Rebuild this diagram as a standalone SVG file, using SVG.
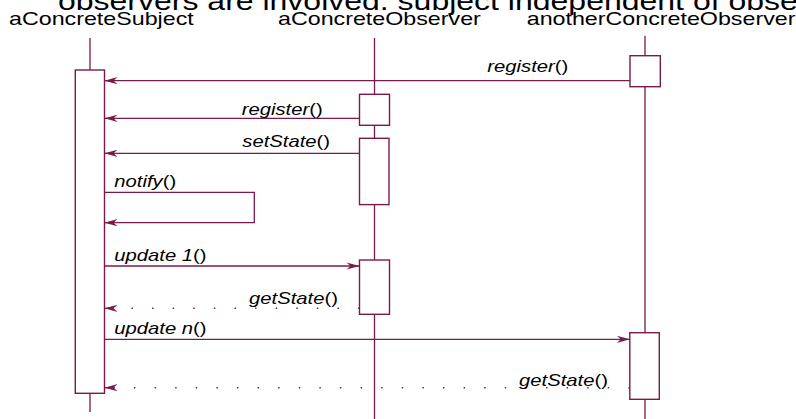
<svg xmlns="http://www.w3.org/2000/svg" width="796" height="419" viewBox="0 0 796 419">
<style>
.t{font-family:"Liberation Sans",Arial,sans-serif;fill:#000}
.title{font-size:25.6px}
.lane{font-size:18.6px}
.msg{font-size:16.2px}
.i{font-style:italic}
.life{stroke:#7a1a4a;stroke-width:1.3;fill:none}
.act{stroke:#7a1a4a;stroke-width:1.4;fill:#fff}
.ln{stroke:#7a1a4a;stroke-width:1.3;fill:none}
.dot{stroke:#7a1a4a;stroke-width:1.6;fill:none;stroke-dasharray:1.4 19.2}
</style>
<defs>
<marker id="ah" markerUnits="userSpaceOnUse" markerWidth="16" markerHeight="10" viewBox="-14 -5 16 10" refX="0" refY="0" orient="auto" overflow="visible">
<path d="M-13,-3.6 L0,0 L-13,3.6 L-9,0 Z" fill="#7a1a4a" stroke="none"/>
</marker>
</defs>
<rect width="796" height="419" fill="#fff"/>
<text class="t title" transform="translate(58,10) scale(1.25,1)">observers are involved. subject independent of observers</text>

<g id="aConcreteSubject">
<text class="t lane" transform="translate(9,25) scale(1.25,1)">aConcreteSubject</text>
<line class="life" x1="90" y1="38" x2="90" y2="412"/>
<rect class="act" x="75.3" y="70" width="29.2" height="323.3"/>
</g>

<g id="aConcreteObserver">
<text class="t lane" transform="translate(278,25) scale(1.25,1)">aConcreteObserver</text>
<line class="life" x1="374.5" y1="38" x2="374.5" y2="419"/>
<rect class="act" x="359.5" y="94.3" width="30" height="31"/>
<rect class="act" x="359.5" y="138.3" width="29.5" height="66.3"/>
<rect class="act" x="359.5" y="260" width="30" height="54.3"/>
</g>

<g id="anotherConcreteObserver">
<text class="t lane" transform="translate(526.7,25) scale(1.25,1)">anotherConcreteObserver</text>
<line class="life" x1="645" y1="35.7" x2="645" y2="419"/>
<rect class="act" x="630" y="55.7" width="30.3" height="31"/>
<rect class="act" x="629.8" y="332.7" width="29.5" height="66.6"/>
</g>

<g id="connectors">
<line class="ln" x1="630" y1="80.7" x2="104.5" y2="80.7" marker-end="url(#ah)"/>
<text class="t msg" transform="translate(487.3,71.6) scale(1.25,1)"><tspan class="i">register</tspan>()</text>

<line class="ln" x1="359.5" y1="118.3" x2="104.5" y2="118.3" marker-end="url(#ah)"/>
<text class="t msg" transform="translate(241.7,115) scale(1.25,1)"><tspan class="i">register</tspan>()</text>

<line class="ln" x1="359.5" y1="153.3" x2="104.5" y2="153.3" marker-end="url(#ah)"/>
<text class="t msg" transform="translate(242.3,147.4) scale(1.25,1)"><tspan class="i">setState</tspan>()</text>

<polyline class="ln" points="104.5,192.3 254.3,192.3 254.3,222.7 104.5,222.7" marker-end="url(#ah)"/>
<text class="t msg" transform="translate(114.3,187.2) scale(1.25,1)"><tspan class="i">notify</tspan>()</text>

<line class="ln" x1="104.5" y1="266" x2="359.5" y2="266" marker-end="url(#ah)"/>
<text class="t msg" transform="translate(114.3,260.5) scale(1.25,1)"><tspan class="i">update 1</tspan>()</text>

<line class="dot" x1="359.5" y1="308.3" x2="104.5" y2="308.3"/>
<line class="ln" x1="110" y1="308.3" x2="104.5" y2="308.3" stroke-width="0" marker-end="url(#ah)"/>
<text class="t msg" transform="translate(249,304) scale(1.25,1)"><tspan class="i">getState</tspan>()</text>

<line class="ln" x1="104.5" y1="339.3" x2="629.8" y2="339.3" marker-end="url(#ah)"/>
<text class="t msg" transform="translate(114.3,334.4) scale(1.25,1)"><tspan class="i">update n</tspan>()</text>

<line class="dot" x1="629.8" y1="387.7" x2="104.5" y2="387.7"/>
<line class="ln" x1="110" y1="387.7" x2="104.5" y2="387.7" stroke-width="0" marker-end="url(#ah)"/>
<text class="t msg" transform="translate(519,386) scale(1.25,1)"><tspan class="i">getState</tspan>()</text>
</g>
</svg>
